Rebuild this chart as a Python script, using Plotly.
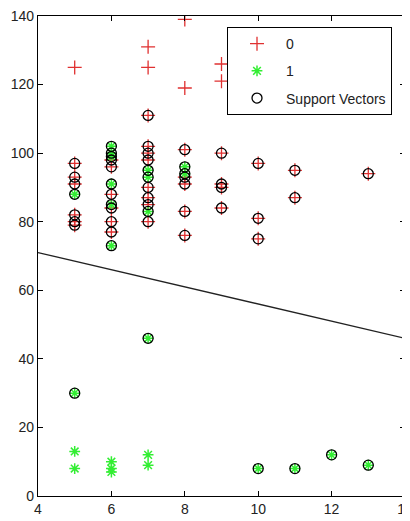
import plotly.graph_objects as go

# Class 0 points
x0 = [5, 5, 5, 5, 5, 5, 5,
      6, 6, 6, 6, 6, 6,
      7, 7, 7, 7, 7, 7, 7, 7, 7, 7,
      8, 8, 8, 8, 8, 8, 8,
      9, 9, 9, 9, 9, 9,
      10, 10, 10,
      11, 11,
      13]
y0 = [125, 97, 93, 91, 82, 80, 79,
      98, 96, 88, 84, 80, 77,
      131, 125, 111, 102, 100, 98, 90, 87, 85, 80,
      139, 119, 101, 93, 91, 83, 76,
      126, 121, 100, 91, 90, 84,
      97, 81, 75,
      95, 87,
      94]
sv0 = [0, 1, 1, 1, 1, 1, 1,
       1, 1, 1, 1, 1, 1,
       0, 0, 1, 1, 1, 1, 1, 1, 1, 1,
       0, 0, 1, 1, 1, 1, 1,
       0, 0, 1, 1, 1, 1,
       1, 1, 1,
       1, 1,
       1]

# Class 1 points
x1 = [5, 5, 5, 5,
      6, 6, 6, 6, 6, 6, 6, 6, 6,
      7, 7, 7, 7, 7, 7,
      8, 8,
      10, 11, 12, 13]
y1 = [88, 30, 13, 8,
      102, 100, 99, 91, 85, 73, 10, 8, 7,
      95, 93, 83, 46, 12, 9,
      96, 94,
      8, 8, 12, 9]
sv1 = [1, 1, 0, 0,
       1, 1, 1, 1, 1, 1, 0, 0, 0,
       1, 1, 1, 1, 0, 0,
       1, 1,
       1, 1, 1, 1]

# Decision boundary
bx = [4, 14]
by = [71, 46]

x_ticks = [4, 6, 8, 10, 12, 14]
y_ticks = [0, 20, 40, 60, 80, 100, 120, 140]

svx = [x for x, s in zip(x0, sv0) if s] + [x for x, s in zip(x1, sv1) if s]
svy = [y for y, s in zip(y0, sv0) if s] + [y for y, s in zip(y1, sv1) if s]

red = "#e03030"
green = "#33ee33"

fig = go.Figure()
fig.add_trace(go.Scatter(x=x0, y=y0, mode="markers", name="0", legendgroup="a",
                         marker=dict(symbol="cross-thin", size=10,
                                     line=dict(color=red, width=1.3), color=red)))
fig.add_trace(go.Scatter(x=x1, y=y1, mode="markers", name="1", legendgroup="b",
                         marker=dict(symbol="asterisk", size=9,
                                     line=dict(color=green, width=1.5), color=green)))
fig.add_trace(go.Scatter(x=svx, y=svy, mode="markers", name="Support Vectors", legendgroup="c",
                         marker=dict(symbol="circle-open", size=10,
                                     line=dict(color="black", width=1.3), color="black")))
fig.add_trace(go.Scatter(x=bx, y=by, mode="lines", showlegend=False,
                         line=dict(color="#222222", width=1.3)))

axis_common = dict(showline=True, linecolor="black", linewidth=1.3, mirror="ticks",
                   ticks="inside", ticklen=5, tickcolor="black", showgrid=False,
                   zeroline=False, ticklabeloverflow="allow", automargin=False,
                   tickfont=dict(family="Liberation Sans, Arial", size=14, color="#222"))

fig.update_xaxes(range=[4, 14], tickvals=x_ticks, ticktext=[str(t) for t in x_ticks], **axis_common)
fig.update_yaxes(range=[0, 140], tickvals=y_ticks, ticktext=[str(t) for t in y_ticks], **axis_common)

fig.update_layout(
    width=402, height=513,
    margin=dict(l=30, r=5, t=8, b=25, autoexpand=False),
    plot_bgcolor="white", paper_bgcolor="white",
    font=dict(family="Liberation Sans, Arial", size=14, color="#222"),
    legend=dict(x=0.515, y=0.977, xanchor="left", yanchor="top",
                bgcolor="white", bordercolor="black", borderwidth=1,
                traceorder="grouped", tracegroupgap=6, itemwidth=48,
                font=dict(family="Liberation Sans, Arial", size=14)),
)

fig.write_html("out.html")
